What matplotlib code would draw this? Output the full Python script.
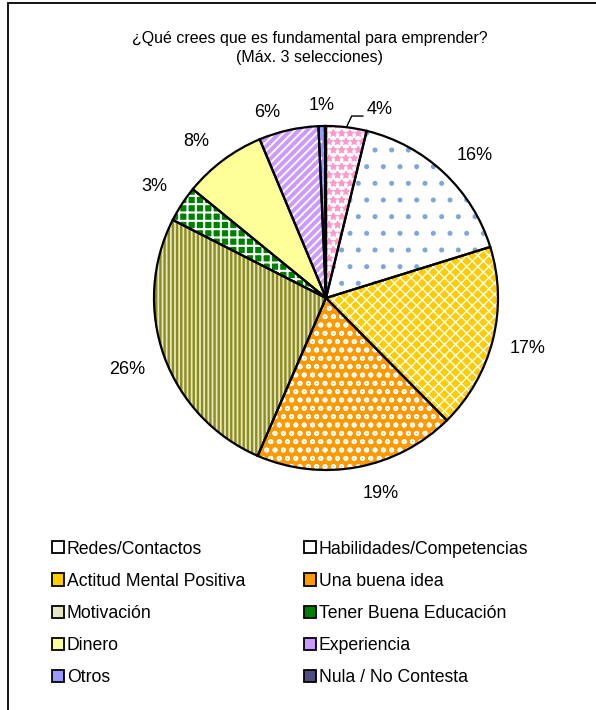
"""Pie chart: ¿Qué crees que es fundamental para emprender?"""

import matplotlib
matplotlib.use("Agg")
import numpy as np
import matplotlib.pyplot as plt
from matplotlib.patches import Patch, Rectangle

plt.rcParams["font.family"] = ["Liberation Sans", "DejaVu Sans"]
plt.rcParams["hatch.linewidth"] = 1.2

# Data
categories = [
    "Redes/Contactos", "Habilidades/Competencias", "Actitud Mental Positiva",
    "Una buena idea", "Motivación", "Tener Buena Educación", "Dinero",
    "Experiencia", "Otros", "Nula / No Contesta",
]
shares = [3.8, 16.4, 17.4, 18.9, 26.0, 3.4, 7.8, 5.6, 0.6, 0.1]

# Styles (fill, hatch, hatch colour, hatch width, label distance / angle shift)
face_colors = ["#FFFFFF", "#FFFFFF", "#FFCC00", "#FF9900", "#E6E6C4",
               "#008000", "#FFFF99", "#CC99FF", "#9999FF", "#4D4D80"]
hatches = ["**", ".", "xxx", "oo", "||||", "++", "", "////", "..", ""]
hatch_colors = ["#FF99CC", "#7FA6D9", "#FFFFFF", "#FFFFFF", "#8C8C1A",
                "#FFFFFF", "#FFFF99", "#FFFFFF", "#FFFFFF", "#4D4D80"]
hatch_widths = [1.2, 1.2, 1.0, 1.2, 1.7, 1.5, 1.0, 1.4, 1.0, 1.0]
label_dist = [1.0, 1.20, 1.21, 1.18, 1.23, 1.19, 1.18, 1.13, 1.12, 1.15]
label_shift = [0, -3, 0, 5, 0, 0, 3, 5, 0, 0]  # degrees

W, H = 596, 710
fig = plt.figure(figsize=(W / 100, H / 100), dpi=100)

# pie axes: centre (326, 298) px, radius 172 px
cx, cy, r = 326, 298, 172
ax = fig.add_axes([(cx - r) / W, (H - cy - r) / H, 2 * r / W, 2 * r / H])


def pct_label(p):
    return f"{p:.0f}%" if p >= 0.5 else ""


# pass 1: fills + hatches (hatch colour comes from edgecolor)
wedges, texts, autotexts = ax.pie(
    shares, startangle=90, counterclock=False, radius=1,
    colors=face_colors, autopct=pct_label, pctdistance=1.19,
    wedgeprops=dict(linewidth=0), textprops=dict(fontsize=13),
)
for w, h, hc, hw in zip(wedges, hatches, hatch_colors, hatch_widths):
    w.set_edgecolor(hc)
    w.set_hatch(h)
    w.set_linewidth(0)
    if hasattr(w, "set_hatch_linewidth"):
        w.set_hatch_linewidth(hw)

# pass 2: black outlines
ax.pie(shares, startangle=90, counterclock=False, radius=1,
       colors=["none"] * len(shares),
       wedgeprops=dict(linewidth=1.6, edgecolor="black", fill=False))
ax.set_xlim(-1, 1)
ax.set_ylim(-1, 1)
ax.axis("off")

# percent labels at their own distance from the centre
for w, t, d, s in zip(wedges, autotexts, label_dist, label_shift):
    theta = np.deg2rad((w.theta1 + w.theta2) / 2 + s)
    t.set_position((d * np.cos(theta), d * np.sin(theta)))

# leader line for the small first slice
w0 = wedges[0]
theta = np.deg2rad((w0.theta1 + w0.theta2) / 2)
x0, y0 = np.cos(theta), np.sin(theta)
x1, y1 = x0 + 0.03, y0 + 0.065
x2 = x1 + 0.065
ax.plot([x0, x1, x2], [y0, y1, y1], color="black", linewidth=1, clip_on=False)
autotexts[0].set_position((x2 + 0.02, y1 + 0.04))
autotexts[0].set_ha("left")

# title
fig.text(310 / W, 1 - 48 / H, "¿Qué crees que es fundamental para emprender?\n(Máx. 3 selecciones)",
         ha="center", va="center", fontsize=11.5, linespacing=1.4)

# frame
fig.patches.append(Rectangle((8 / W, -0.05), 1.2, (H - 3) / H + 0.05,
                             transform=fig.transFigure, fill=False,
                             edgecolor="black", linewidth=1.3))

# legend in two columns
handles = [Patch(facecolor=c, edgecolor="black", linewidth=1.3) for c in face_colors]
for col, x in ((0, 52), (1, 304)):
    idx = list(range(col, len(categories), 2))
    fig.legend([handles[i] for i in idx], [categories[i] for i in idx],
               loc="upper left", bbox_to_anchor=(x / W, 1 - 540.5 / H),
               frameon=False, fontsize=12.7, handlelength=0.68, handleheight=0.68,
               handletextpad=0.15, labelspacing=0.86, borderpad=0, borderaxespad=0)

plt.savefig("out.png", dpi=100)
plt.close()
